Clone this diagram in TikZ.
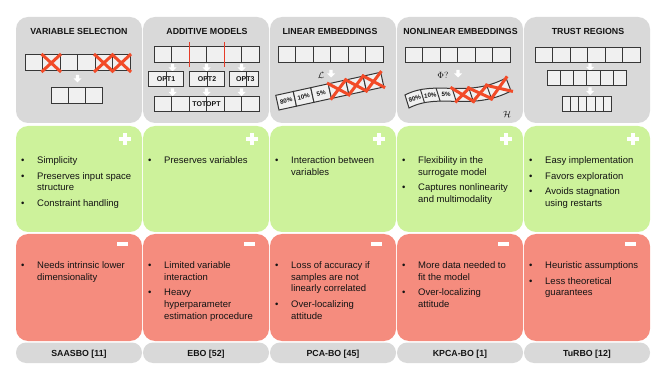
\documentclass[tikz,border=0pt]{standalone}
\usepackage{fontspec}
\setmainfont{Liberation Sans}
\usetikzlibrary{calc}
\definecolor{panelgrey}{RGB}{217,217,217}
\definecolor{progreen}{RGB}{205,242,155}
\definecolor{consalmon}{RGB}{245,140,126}
\definecolor{cellfill}{RGB}{240,240,240}
\definecolor{celledge}{RGB}{55,55,55}
\definecolor{xred}{RGB}{242,75,40}
\definecolor{linered}{RGB}{230,60,40}
\definecolor{txt}{RGB}{20,20,20}
\tikzset{
 cellbox/.style={draw=celledge, fill=cellfill, line width=1pt},
 xmark/.style={draw=xred, line width=3pt},
 ttl/.style={font=\fontsize{8.8}{10}\selectfont\bfseries, text=txt, inner sep=0},
 body/.style={font=\fontsize{9.5}{11.7}\selectfont, text=txt, inner sep=0, anchor=base west},
 lbl/.style={font=\fontsize{8.8}{10}\selectfont\bfseries, text=txt, inner sep=0, anchor=base},
 pct/.style={font=\fontsize{6.2}{7}\selectfont\bfseries, text=txt, inner sep=0},
 opt/.style={font=\fontsize{7}{8}\selectfont\bfseries, text=txt, inner sep=0},
 sym/.style={font=\fontsize{9}{10}\selectfont, text=txt, inner sep=0},
 dnarr/.pic={\fill[white] (-1.7,0) -- (1.7,0) -- (1.7,3.5) -- (4,3.5) -- (0,7.5) -- (-4,3.5) -- (-1.7,3.5) -- cycle;}
}
\newcommand\cellrow[5]{\foreach \k in {1,...,#5}{\draw[cellbox] ({#1+(\k-1)*#3},#2) rectangle ++(#3,#4);}}
\newcommand\xcell[4]{\draw[xmark] ({#1-1},{#2-1}) -- ({#1+#3+1},{#2+#4+1}); \draw[xmark] ({#1-1},{#2+#4+1}) -- ({#1+#3+1},{#2-1});}
\newcommand\blist[1]{\begin{tabular}[t]{@{}p{16pt}@{}l@{}}#1\end{tabular}}
\newcommand\bi{\textbullet &}
\begin{document}
\begin{tikzpicture}[x=1pt,y=-1pt]
\useasboundingbox (0,0) rectangle (664,374);
% panels
\foreach \L in {16,143,270,397,524}{
 \begin{scope}[shift={(\L,0)}]
 \fill[panelgrey, rounded corners=12pt] (0,17) rectangle ++(126,106);
 \fill[progreen, rounded corners=12pt] (0,126) rectangle ++(126,106);
 \fill[consalmon, rounded corners=12pt] (0,234) rectangle ++(126,107);
 \fill[panelgrey, rounded corners=10pt] (0,342.5) rectangle ++(126,20.5);
 \fill[white] (103,137.3) rectangle (115,140.7);
 \fill[white] (107.3,133) rectangle (110.7,145);
 \fill[white] (101.3,242.3) rectangle (112.3,245.8);
 \end{scope}
}
% titles
\node[ttl] (t1) at (79,31.3) {VARIABLE SELECTION};
\node[ttl] (t2) at (207,31.3) {ADDITIVE MODELS};
\node[ttl] (t3) at (330,31.3) {LINEAR EMBEDDINGS};
\node[ttl] (t4) at (460.5,31.3) {NONLINEAR EMBEDDINGS};
\node[ttl] (t5) at (588,31.3) {TRUST REGIONS};
% panel 1
\cellrow{25}{55}{17.5}{16}{6}
\xcell{42.5}{55}{17.5}{16}
\xcell{95}{55}{17.5}{16}
\xcell{112.5}{55}{17.5}{16}
\pic at (77.5,75) {dnarr};
\cellrow{51}{88}{17.33}{16}{3}
% panel 2
\foreach \ax in {172.5,206.5,241.5}{\pic at (\ax,64) {dnarr}; \pic at (\ax,88.5) {dnarr};}
\cellrow{154}{47}{17.5}{16}{6}
\draw[linered, line width=1pt] (189,42) -- (189,67);
\draw[linered, line width=1pt] (224,42) -- (224,67);
\draw[cellbox] (148.3,72) rectangle (166.7,87);
\draw[cellbox] (166.7,72) rectangle (183.3,87);
\draw[cellbox] (189,72) rectangle (207,87);
\draw[cellbox] (207,72) rectangle (224,87);
\draw[cellbox] (229.3,72) rectangle (246.7,87);
\draw[cellbox] (246.7,72) rectangle (258.3,87);
\node[opt] (o1) at (166,79.5) {OPT1};
\node[opt] (o2) at (207,79.5) {OPT2};
\node[opt] (o3) at (245.3,79.5) {OPT3};
\cellrow{154}{97}{17.5}{15}{6}
\node[opt] (tot) at (206.5,104.5) {TOTOPT};
% panel 3
\cellrow{278}{47}{17.5}{16}{6}
\node[sym] (lsym) at (321,75) {$\mathcal{L}$};
\pic at (331,70) {dnarr};
\begin{scope}[shift={(279,110)}, rotate=12.4]
 \foreach \k in {1,...,6}{\draw[cellbox] ({(\k-1)*17.9},0) rectangle ++(17.9,-15);}
 \node[pct, rotate=12.4] (p1) at (8.95,-7.5) {80\%};
 \node[pct, rotate=12.4] (p2) at (26.85,-7.5) {10\%};
 \node[pct, rotate=12.4] (p3) at (44.75,-7.5) {5\%};
 \foreach \k in {4,5,6}{
  \draw[xmark] ({(\k-1)*17.9-1},1) -- ({\k*17.9+1},-16);
  \draw[xmark] ({(\k-1)*17.9-1},-16) -- ({\k*17.9+1},1);
 }
\end{scope}
% panel 4
\cellrow{405}{48}{17.5}{15}{6}
\node[sym] (phisym) at (443,75) {$\Phi?$};
\pic at (458,70) {dnarr};
\path (405,95) .. controls (436,79) and (466,99) .. (506,78)
  coordinate[pos=0] (a0) coordinate[pos=0.16667] (a1) coordinate[pos=0.33333] (a2)
  coordinate[pos=0.5] (a3) coordinate[pos=0.66667] (a4) coordinate[pos=0.83333] (a5)
  coordinate[pos=1] (a6);
\path (409,108) .. controls (440,92) and (470,112) .. (511,91)
  coordinate[pos=0] (b0) coordinate[pos=0.16667] (b1) coordinate[pos=0.33333] (b2)
  coordinate[pos=0.5] (b3) coordinate[pos=0.66667] (b4) coordinate[pos=0.83333] (b5)
  coordinate[pos=1] (b6);
\draw[cellbox] (405,95) .. controls (436,79) and (466,99) .. (506,78) -- (511,91) .. controls (470,112) and (440,92) .. (409,108) -- cycle;
\foreach \k in {1,...,5}{\draw[celledge, line width=1pt] (a\k) -- (b\k);}
\node[pct, rotate=19] (q1) at ($(a0)!0.5!(b1)$) {80\%};
\node[pct, rotate=6] (q2) at ($(a1)!0.5!(b2)$) {10\%};
\node[pct, rotate=0] (q3) at ($(a2)!0.5!(b3)$) {5\%};
\draw[xmark] ($(a3)!-0.08!(b4)$) -- ($(a3)!1.08!(b4)$);
\draw[xmark] ($(b3)!-0.08!(a4)$) -- ($(b3)!1.08!(a4)$);
\draw[xmark] ($(a4)!-0.08!(b5)$) -- ($(a4)!1.08!(b5)$);
\draw[xmark] ($(b4)!-0.08!(a5)$) -- ($(b4)!1.08!(a5)$);
\draw[xmark] ($(a5)!-0.08!(b6)$) -- ($(a5)!1.08!(b6)$);
\draw[xmark] ($(b5)!-0.08!(a6)$) -- ($(b5)!1.08!(a6)$);
\node[sym] (hsym) at (507,114) {$\mathcal{H}$};
% panel 5
\cellrow{535}{48}{17.5}{15}{6}
\pic at (590,63.5) {dnarr};
\cellrow{547}{71}{13.33}{15}{6}
\pic at (590,87.5) {dnarr};
\cellrow{562}{97}{8.33}{15}{6}
% pros
\node[body] (g1) at (21,163.5) {\blist{\bi Simplicity\\[4pt] \bi Preserves input space\\ & structure\\[4pt] \bi Constraint handling}};
\node[body] (g2) at (148,163.5) {\blist{\bi Preserves variables}};
\node[body] (g3) at (275,163.5) {\blist{\bi Interaction between\\ & variables}};
\node[body] (g4) at (402,163.5) {\blist{\bi Flexibility in the\\ & surrogate model\\[4pt] \bi Captures nonlinearity\\ & and multimodality}};
\node[body] (g5) at (529,163.5) {\blist{\bi Easy implementation\\[4pt] \bi Favors exploration\\[4pt] \bi Avoids stagnation\\ & using restarts}};
% cons
\node[body] (r1) at (21,268.5) {\blist{\bi Needs intrinsic lower\\ & dimensionality}};
\node[body] (r2) at (148,268.5) {\blist{\bi Limited variable\\ & interaction\\[4pt] \bi Heavy\\ & hyperparameter\\ & estimation procedure}};
\node[body] (r3) at (275,268.5) {\blist{\bi Loss of accuracy if\\ & samples are not\\ & linearly correlated\\[4pt] \bi Over-localizing\\ & attitude}};
\node[body] (r4) at (402,268.5) {\blist{\bi More data needed to\\ & fit the model\\[4pt] \bi Over-localizing\\ & attitude}};
\node[body] (r5) at (529,268.5) {\blist{\bi Heuristic assumptions\\[4pt] \bi Less theoretical\\ & guarantees}};
% labels
\node[lbl] (l1) at (79,356) {SAASBO [11]};
\node[lbl] (l2) at (206,356) {EBO [52]};
\node[lbl] (l3) at (333,356) {PCA-BO [45]};
\node[lbl] (l4) at (460,356) {KPCA-BO [1]};
\node[lbl] (l5) at (587,356) {TuRBO [12]};
\end{tikzpicture}
\end{document}
